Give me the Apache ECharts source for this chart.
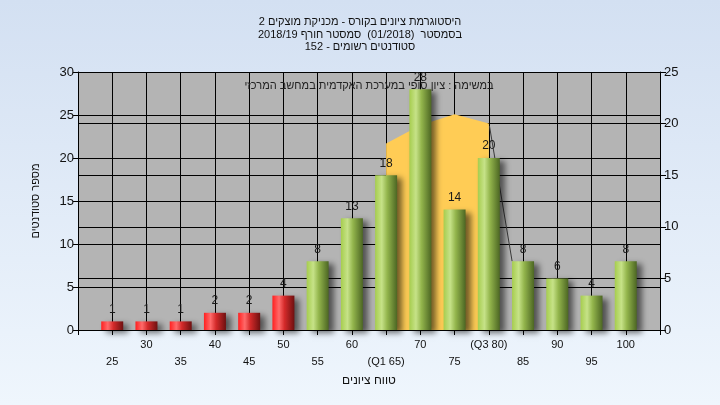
<!DOCTYPE html>
<html>
<head>
<meta charset="utf-8">
<script src="https://cdn.jsdelivr.net/npm/echarts@6/dist/echarts.min.js"></script>
<style>
html,body{margin:0;padding:0;}
#chart{width:720px;height:405px;}
</style>
</head>
<body>
<div id="chart"></div>
<script>
// ---- data ----
const titleLines = [
  'היסטוגרמת ציונים בקורס - מכניקת מוצקים 2',
  'בסמסטר  (01/2018)  סמסטר חורף 2018/19',
  'סטודנטים רשומים - 152'
];
const noteText = 'במשימה : ציון סופי במערכת האקדמית במחשב המרכזי';
const xAxisName = 'טווח ציונים';
const yAxisName = 'מספר סטודנטים';
const gradeBins = [25, 30, 35, 40, 45, 50, 55, 60, 65, 70, 75, 80, 85, 90, 95, 100];
const studentCounts = [1, 1, 1, 2, 2, 4, 8, 13, 18, 28, 14, 20, 8, 6, 4, 8];
const passMark = 55;
const quartileLabels = { 65: '(Q1 65)', 80: '(Q3 80)' };
// inter-quartile shaded band (left axis units)
const bandX = [65, 65, 70, 75, 80, 80];
const bandY = [0, 21.7, 23.8, 25.1, 24.0, 0];
// dark edge line to the right of the band
const edgeX = [80.1, 83.4];
const edgeY = [23.7, 8];
const xMin = 20, xMax = 105, xStep = 5;
const yLeftTicks = [0, 30, 5];
const yRightTicks = [0, 25, 5];

// ---- chart ----
const chart = echarts.init(document.getElementById('chart'));
const G = echarts.graphic.LinearGradient;
const greenGrad = new G(0, 0, 1, 0, [
  { offset: 0, color: '#a6cd4e' },
  { offset: 0.3, color: '#c6e288' },
  { offset: 0.55, color: '#93b54c' },
  { offset: 1, color: '#4c6623' }
]);
const redGrad = new G(0, 0, 1, 0, [
  { offset: 0, color: '#ff2020' },
  { offset: 0.3, color: '#ff6a6a' },
  { offset: 0.55, color: '#d42a2a' },
  { offset: 1, color: '#6e1010' }
]);
const font = '"Liberation Sans", Arial, "DejaVu Sans", sans-serif';

const barData = gradeBins.map((g, i) => [g, studentCounts[i]]);
const bandData = bandX.map((x, i) => [x, bandY[i]]);
const edgeData = edgeX.map((x, i) => [x, edgeY[i]]);

chart.setOption({
  backgroundColor: new G(0, 0, 0, 1, [
    { offset: 0, color: '#d3e0f2' },
    { offset: 1, color: '#eff6fd' }
  ]),
  textStyle: { fontFamily: font },
  animation: false,
  title: {
    text: titleLines.join('\n'),
    left: 'center',
    top: 11,
    textStyle: { fontSize: 11, fontWeight: 'normal', color: '#111', lineHeight: 12.5, fontFamily: font }
  },
  graphic: [{
    type: 'text',
    x: 369, y: 86,
    z: 100,
    style: { text: noteText, fontSize: 11, fill: '#222', textAlign: 'center', textVerticalAlign: 'middle', fontFamily: font }
  }],
  grid: {
    left: 78, right: 60, top: 72, bottom: 75,
    show: true, backgroundColor: '#b4b4b4', borderWidth: 0
  },
  xAxis: {
    type: 'value',
    min: xMin, max: xMax, interval: xStep,
    name: xAxisName,
    nameLocation: 'middle',
    nameGap: 45,
    nameTextStyle: { fontSize: 12, color: '#111' },
    axisLine: { show: true, lineStyle: { color: '#000', width: 1 } },
    axisTick: { show: true, length: 5, lineStyle: { color: '#000' } },
    splitLine: { show: true, lineStyle: { color: '#000', width: 1 } },
    axisLabel: {
      margin: 6,
      fontSize: 11,
      color: '#111',
      lineHeight: 17,
      showMinLabel: true, showMaxLabel: true,
      formatter: function (v) {
        if (v <= xMin || v >= xMax) return '';
        const lab = quartileLabels[v] || String(v);
        return (Math.round(v / xStep) % 2 === 1) ? '\n' + lab : lab;
      }
    }
  },
  yAxis: [{
    type: 'value',
    min: yLeftTicks[0], max: yLeftTicks[1], interval: yLeftTicks[2],
    position: 'left',
    name: yAxisName,
    nameLocation: 'middle',
    nameGap: 37,
    nameTextStyle: { fontSize: 11, color: '#111' },
    axisLine: { show: true, lineStyle: { color: '#000' } },
    axisTick: { show: true, length: 5, lineStyle: { color: '#000' } },
    splitLine: { show: true, lineStyle: { color: '#000', width: 1 } },
    axisLabel: { fontSize: 13, color: '#111', margin: 4 }
  }, {
    type: 'value',
    min: yRightTicks[0], max: yRightTicks[1], interval: yRightTicks[2],
    position: 'right',
    axisLine: { show: true, lineStyle: { color: '#000' } },
    axisTick: { show: true, length: 6, lineStyle: { color: '#000' } },
    splitLine: { show: true, lineStyle: { color: '#000', width: 1 } },
    axisLabel: { fontSize: 13, color: '#111', margin: 4 }
  }],
  series: [{
    type: 'line',
    data: bandData,
    yAxisIndex: 0,
    symbol: 'none',
    lineStyle: { width: 0 },
    areaStyle: { color: '#ffcc55', opacity: 1 },
    z: 1,
    silent: true
  }, {
    type: 'line',
    data: edgeData,
    yAxisIndex: 0,
    symbol: 'none',
    lineStyle: { width: 1, color: '#3a3a3a' },
    z: 2,
    silent: true
  }, {
    type: 'bar',
    data: barData,
    yAxisIndex: 0,
    barWidth: 22,
    z: 3,
    itemStyle: {
      color: function (p) { return p.value[0] < passMark ? redGrad : greenGrad; },
      shadowColor: 'rgba(0,0,0,0.55)',
      shadowBlur: 6,
      shadowOffsetX: 5,
      shadowOffsetY: 3
    },
    label: {
      show: true,
      position: 'top',
      distance: 6,
      fontSize: 12,
      color: '#1a1a1a',
      formatter: function (p) { return p.value[1]; }
    }
  }]
});
</script>
</body>
</html>
